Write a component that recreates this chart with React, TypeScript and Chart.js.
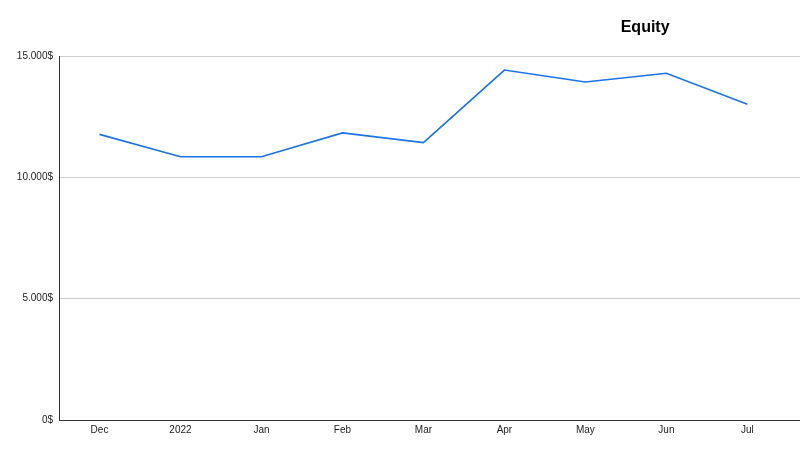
import React, { useEffect, useRef } from "react";
import { Chart, registerables } from "chart.js";

Chart.register(...registerables);

const categories = ["Dec", "2022", "Jan", "Feb", "Mar", "Apr", "May", "Jun", "Jul"];
const equity = [11770, 10850, 10850, 11830, 11430, 14420, 13930, 14290, 13010];
const yTicks = [0, 5000, 10000, 15000];
const chartTitle = "Equity";

const FONT = "'Liberation Sans', Arial, sans-serif";

const fmt = (v: number) => {
  const s = Math.round(v).toString().replace(/\B(?=(\d{3})+(?!\d))/g, ".");
  return s + "$";
};

const titlePlugin = {
  id: "customTitle",
  afterDraw(chart: any) {
    const ctx = chart.ctx;
    const a = chart.chartArea;
    ctx.save();
    ctx.font = "bold 16px " + FONT;
    ctx.fillStyle = "#000";
    ctx.textAlign = "center";
    ctx.textBaseline = "alphabetic";
    ctx.fillText(chartTitle, a.left + (a.right - a.left) * 0.791, 32);
    ctx.restore();
  },
};

export default function App() {
  const ref = useRef<HTMLCanvasElement>(null);
  useEffect(() => {
    if (!ref.current) return;
    const chart = new Chart(ref.current, {
      type: "line",
      data: {
        datasets: [
          {
            label: chartTitle,
            data: equity.map((y, i) => ({ x: i, y })),
            borderColor: "#1a73e8",
            borderWidth: 1.6,
            pointRadius: 0,
            tension: 0,
            fill: false,
          },
        ],
      },
      options: {
        responsive: false,
        animation: false,
        layout: { padding: { top: 56, right: 0, left: 0, bottom: 10 } },
        plugins: { legend: { display: false }, title: { display: false }, tooltip: { enabled: false } },
        scales: {
          x: {
            type: "linear",
            min: -0.5,
            max: 8.65,
            afterBuildTicks: (scale: any) => {
              scale.ticks = categories.map((_, i) => ({ value: i }));
            },
            ticks: {
              autoSkip: false,
              maxRotation: 0,
              padding: 4,
              color: "#222",
              font: { family: FONT, size: 10 },
              callback: (v: any) => categories[v as number] ?? "",
            },
            grid: { display: false, drawTicks: false },
            border: { display: true, color: "#333", width: 1 },
          },
          y: {
            min: 0,
            max: 15000,
            afterBuildTicks: (scale: any) => {
              scale.ticks = yTicks.map((v) => ({ value: v }));
            },
            afterFit: (scale: any) => {
              scale.width = 59;
            },
            ticks: {
              padding: 6,
              color: "#222",
              font: { family: FONT, size: 10 },
              callback: (v: any) => fmt(v as number),
            },
            grid: { color: "#cccccc", drawTicks: false, lineWidth: 1 },
            border: { display: true, color: "#333", width: 1 },
          },
        },
      },
      plugins: [titlePlugin],
    });
    return () => chart.destroy();
  }, []);
  return (
    <div style={{ position: "absolute", left: 0, top: 0, width: 800, height: 450 }}>
      <canvas ref={ref} width={800} height={450} />
    </div>
  );
}
